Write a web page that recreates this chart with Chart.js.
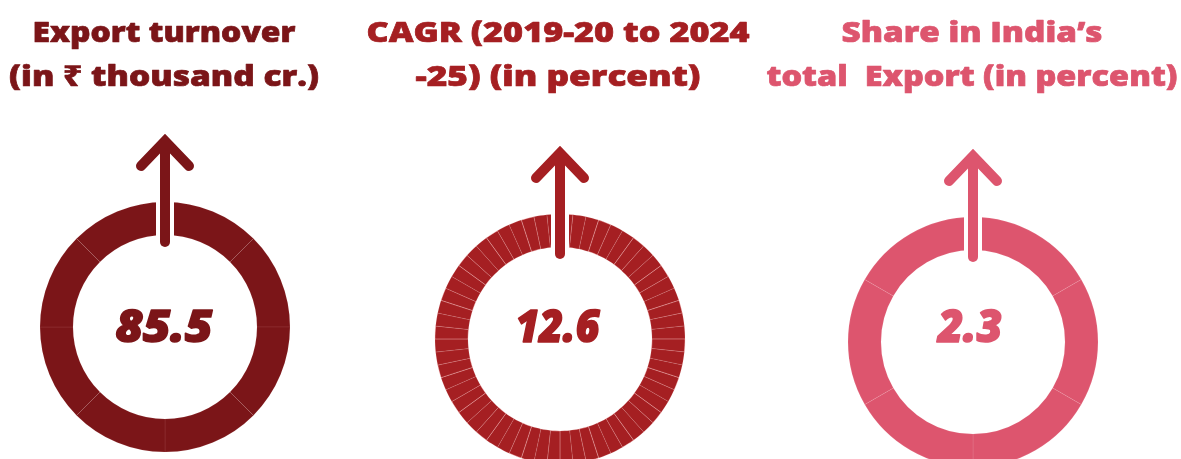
<!DOCTYPE html>
<html>
<head>
<meta charset="utf-8">
<script src="https://cdn.jsdelivr.net/npm/chart.js@4.4.1/dist/chart.umd.min.js"></script>
<style>
  html, body { margin: 0; padding: 0; width: 1181px; height: 459px; overflow: hidden; background: #ffffff; }
  canvas { position: absolute; left: 0; top: 0; }
</style>
</head>
<body>
<canvas id="c0" width="1181" height="500"></canvas>
<canvas id="c1" width="1181" height="500"></canvas>
<canvas id="c2" width="1181" height="500"></canvas>
<script>
// ---- data ----
const metricTitles = [
  ["Export turnover", "(in \u20B9 thousand cr.)"],
  ["CAGR (2019-20 to 2024", "-25) (in percent)"],
  ["Share in India\u2019s", "total  Export (in percent)"]
];
const metricValues = [85.5, 12.6, 2.3];
const metricColors = ["#7B1518", "#A51F22", "#DD556E"];
// decorative ring segments
const ring1Segments = [1, 1, 1, 1, 1, 1, 1, 1];
const ring2Segments = [1, 1, 1, 1, 1, 1, 1, 1, 1, 1, 1, 1, 1, 1, 1, 1, 1, 1, 1, 1,
                       1, 1, 1, 1, 1, 1, 1, 1, 1, 1, 1, 1, 1, 1, 1, 1, 1, 1, 1, 1,
                       1, 1, 1, 1, 1, 1, 1, 1, 1, 1, 1, 1, 1, 1, 1, 1, 1, 1, 1, 1];
const ring3Segments = [1, 1, 1, 1, 1, 1];
const ringSegments = [ring1Segments, ring2Segments, ring3Segments];

// ---- layout ----
const centersX = [165, 560, 973];
const centersY = [327, 339, 342];
const titleX = [164, 558, 972];
const titleWidths = [[263, 310], [383, 285], [261, 411]];
const valueX = [164, 557.5, 970];
const valueWidths = [97, 84, 64];
const outerR = 125, innerR = 92;
const W = 1181, H = 500;

function borderColorsFor(i, n) {
  const out = [];
  for (let k = 0; k < n; k++) {
    if (i === 1) out.push(k % 3 === 0 ? "rgba(255,200,200,0.40)" : "rgba(255,200,200,0.13)");
    else if (i === 0) out.push("rgba(255,220,220,0.08)");
    else out.push("rgba(255,235,240,0.10)");
  }
  return out;
}

function fitText(ctx, text, x, y, targetW, strokeW) {
  const w = ctx.measureText(text).width;
  const sx = w > 0 ? targetW / w : 1;
  ctx.save();
  ctx.translate(x, y);
  ctx.scale(sx, 1);
  ctx.fillText(text, 0, 0);
  if (strokeW > 0) {
    ctx.lineWidth = strokeW;
    ctx.lineJoin = "round";
    ctx.strokeText(text, 0, 0);
  }
  ctx.restore();
}

const decoPlugin = {
  id: "deco",
  afterDatasetsDraw(chart, args, opts) {
    const ctx = chart.ctx;
    const meta = chart.getDatasetMeta(0);
    const arc = meta.data[0];
    const cx = arc.x, cy = arc.y;
    const ro = arc.outerRadius, ri = arc.innerRadius;
    const top = cy - ro;
    ctx.save();
    // gap through the ring
    ctx.fillStyle = "#ffffff";
    ctx.fillRect(cx - 9, top - 3, 18, ro - ri + 6);
    // arrow
    ctx.strokeStyle = opts.color;
    ctx.lineWidth = 10;
    ctx.lineCap = "round";
    ctx.lineJoin = "miter";
    ctx.beginPath();
    ctx.moveTo(cx, top - 58);
    ctx.lineTo(cx, cy - ri + 7);
    ctx.stroke();
    ctx.beginPath();
    ctx.moveTo(cx - 24, top - 36);
    ctx.lineTo(cx, top - 61);
    ctx.lineTo(cx + 24, top - 36);
    ctx.stroke();
    // center value
    ctx.fillStyle = opts.color;
    ctx.strokeStyle = opts.color;
    ctx.textAlign = "center";
    ctx.textBaseline = "alphabetic";
    ctx.font = "italic 800 45px 'Open Sans', 'DejaVu Sans', sans-serif";
    fitText(ctx, opts.value, opts.valueX, 342, opts.valueW, 1.6);
    // title
    ctx.font = "800 29px 'Open Sans', 'Noto Sans', 'DejaVu Sans', sans-serif";
    fitText(ctx, opts.title[0], opts.titleX, 42, opts.titleW[0], 0.7);
    fitText(ctx, opts.title[1], opts.titleX, 86, opts.titleW[1], 0.7);
    ctx.restore();
  }
};

for (let i = 0; i < 3; i++) {
  const cx = centersX[i], cy = centersY[i];
  const segs = ringSegments[i];
  new Chart(document.getElementById("c" + i), {
    type: "doughnut",
    data: {
      labels: segs.map((_, k) => "s" + (k + 1)),
      datasets: [{
        data: segs,
        backgroundColor: metricColors[i],
        borderColor: borderColorsFor(i, segs.length),
        borderWidth: 1,
        hoverOffset: 0
      }]
    },
    options: {
      responsive: false,
      animation: false,
      events: [],
      radius: outerR,
      cutout: (innerR / outerR * 100).toFixed(2) + "%",
      layout: {
        padding: {
          left: cx - 130,
          right: W - (cx + 130),
          top: cy - 130,
          bottom: H - (cy + 130)
        }
      },
      plugins: {
        legend: { display: false },
        tooltip: { enabled: false },
        deco: {
          color: metricColors[i],
          value: metricValues[i].toFixed(1),
          title: metricTitles[i],
          titleX: titleX[i],
          titleW: titleWidths[i],
          valueX: valueX[i],
          valueW: valueWidths[i]
        }
      }
    },
    plugins: [decoPlugin]
  });
}
</script>
</body>
</html>
